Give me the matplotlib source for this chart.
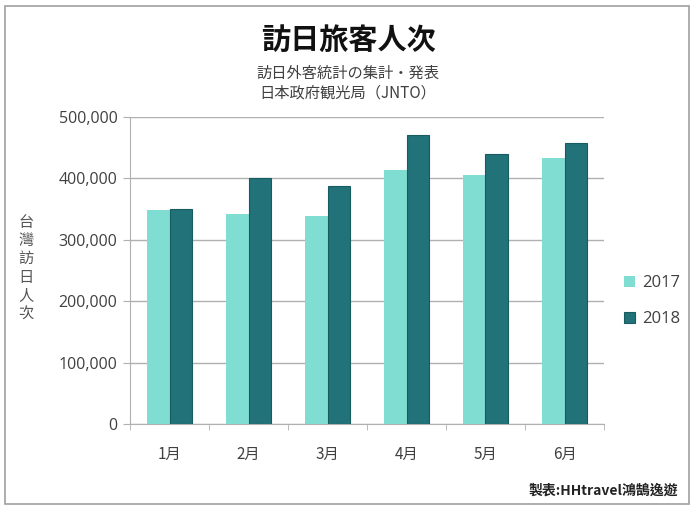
import matplotlib
matplotlib.use('Agg')
import matplotlib.pyplot as plt
import matplotlib.ticker as mticker
from matplotlib.patches import Rectangle
import numpy as np

months = ['1月', '2月', '3月', '4月', '5月', '6月']
visitors_2017 = [349000, 342000, 339000, 413000, 406000, 433000]
visitors_2018 = [350000, 400000, 387000, 470000, 440000, 457000]
series_labels = ['2017', '2018']

c2017 = '#80ddd1'
c2018 = '#22727a'
txt = '#404040'
grid = '#b0b0b0'

plt.rcParams['font.family'] = ['Noto Sans CJK TC', 'DejaVu Sans']

fig = plt.figure(figsize=(6.96, 5.11), dpi=100)
# outer frame of the picture
fig.patches.append(Rectangle((5/696, 7/511), 684/696, 498/511, transform=fig.transFigure,
                             fill=False, edgecolor='#a0a0a0', linewidth=1.2))

ax = fig.add_axes([130/696, 87/511, 474/696, 307/511])
x = np.arange(len(months))
w = 0.28
ax.bar(x - w/2, visitors_2017, w, color=c2017, label=series_labels[0], zorder=3)
ax.bar(x + w/2, visitors_2018, w, color=c2018, edgecolor='#185c60', linewidth=0.8,
       label=series_labels[1], zorder=3)

ax.set_xlim(-0.5, len(months) - 0.5)
ax.set_ylim(0, 500000)
ax.set_yticks(np.arange(0, 500001, 100000))
ax.yaxis.set_major_formatter(mticker.FuncFormatter(lambda v, p: f'{int(v):,}'))
ax.set_xticks(x)
ax.set_xticklabels(months)
ax.set_xticks(np.arange(-0.5, len(months)), minor=True)
ax.tick_params(axis='x', which='major', length=0, pad=16, labelsize=11, labelcolor=txt)
ax.tick_params(axis='x', which='minor', length=4, color=grid)
ax.tick_params(axis='y', length=5, color=grid, labelsize=11.5, labelcolor=txt, pad=4)
for lab in ax.get_yticklabels():
    lab.set_family('Open Sans')
ax.grid(axis='y', color=grid, linewidth=1, zorder=0)
for s in ['top', 'right']:
    ax.spines[s].set_visible(False)
ax.spines['left'].set_color(grid)
ax.spines['bottom'].set_color(grid)

leg = ax.legend(loc='center left', bbox_to_anchor=(1.01, 0.4), frameon=False,
                handlelength=0.7, handleheight=0.7, handletextpad=0.4,
                labelspacing=1.2, prop={'family': 'Open Sans', 'size': 12})
for t in leg.get_texts():
    t.set_color(txt)

fig.text(0.5, 1 - 40/511, '訪日旅客人次', ha='center', va='center', fontsize=21,
         fontweight='bold', color='#111111', family=['Noto Sans CJK JP', 'DejaVu Sans'])
fig.text(0.5, 1 - 73/511, '訪日外客統計の集計・発表', ha='center', va='center', fontsize=11,
         color=txt, family=['Noto Sans CJK JP', 'DejaVu Sans'])
fig.text(0.5, 1 - 93/511, '日本政府観光局（JNTO）', ha='center', va='center', fontsize=11,
         color=txt, family=['Noto Sans CJK JP', 'DejaVu Sans'])

fig.text(26/696, 1 - 268/511, '\n'.join('台灣訪日人次'), ha='center', va='center',
         fontsize=11, color='#555555', linespacing=1.1)

fig.text(678/696, 1 - 491/511, '製表:HHtravel鴻鵠逸遊', ha='right', va='center',
         fontsize=10, fontweight='bold', color='#222222')

fig.savefig('out.png', dpi=100)
